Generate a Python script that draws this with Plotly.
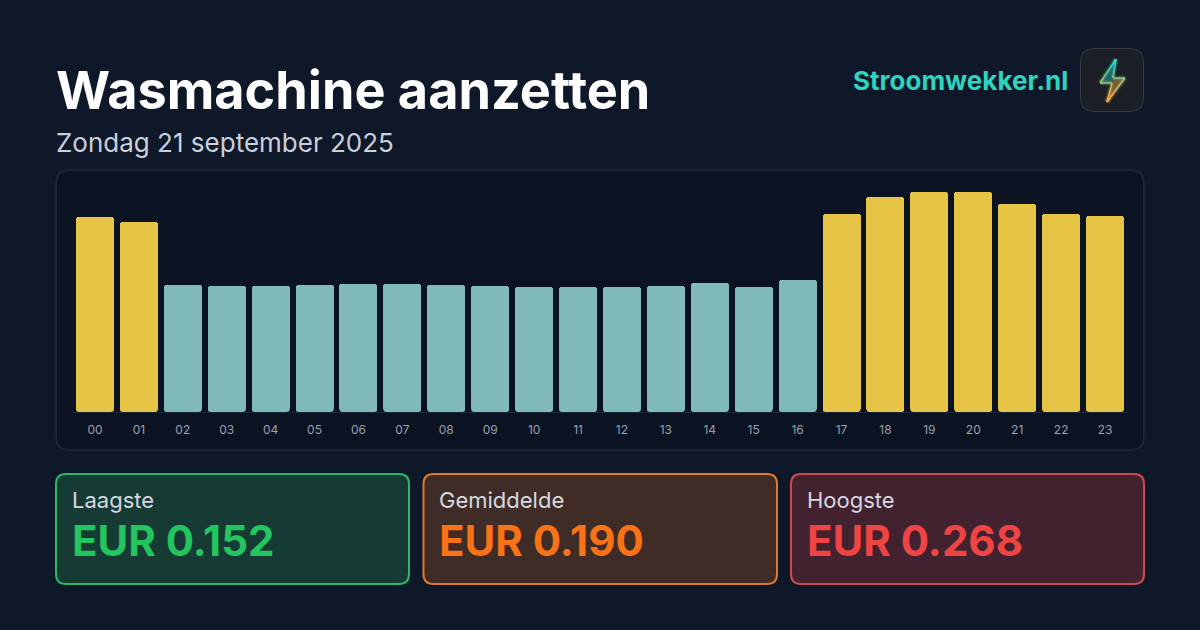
import plotly.graph_objects as go

WIDTH, HEIGHT = 1200, 630

hours = [f"{h:02d}" for h in range(24)]
prices = [0.2375, 0.2315, 0.1547, 0.1529, 0.1535, 0.1547, 0.1560, 0.1565,
          0.1547, 0.1535, 0.1520, 0.1520, 0.1520, 0.1535, 0.1570, 0.1523,
          0.1614, 0.2418, 0.2620, 0.2680, 0.2680, 0.2534, 0.2418, 0.2388]
cheap_hours = ["02", "03", "04", "05", "06", "07", "08", "09", "10", "11",
               "12", "13", "14", "15", "16"]
title = "Wasmachine aanzetten"
subtitle = "Zondag 21 september 2025"
brand = "Stroomwekker.nl"
card_labels = ["Laagste", "Gemiddelde", "Hoogste"]
card_values = ["EUR 0.152", "EUR 0.190", "EUR 0.268"]

FONT = "Inter"
BG = "#0f1828"
PANEL = "#0b1221"
TEAL = "#7fb9b9"
YELLOW = "#e6c546"
CARD_STYLES = [
    ("#22c55e", "#163a34", "#2bb765"),
    ("#f97316", "#402c27", "#de7a2a"),
    ("#ef4444", "#432230", "#cf4a50"),
]
BAR_HALF_PX = 19
BAR_CORNER_PX = 3


def px(x):
    return x / WIDTH


def py(y):
    return 1 - y / HEIGHT


def rounded_rect(x0, y0, x1, y1, r):
    return (
        f"M{px(x0 + r)},{py(y0)} L{px(x1 - r)},{py(y0)} "
        f"Q{px(x1)},{py(y0)} {px(x1)},{py(y0 + r)} L{px(x1)},{py(y1 - r)} "
        f"Q{px(x1)},{py(y1)} {px(x1 - r)},{py(y1)} L{px(x0 + r)},{py(y1)} "
        f"Q{px(x0)},{py(y1)} {px(x0)},{py(y1 - r)} L{px(x0)},{py(y0 + r)} "
        f"Q{px(x0)},{py(y0)} {px(x0 + r)},{py(y0)} Z"
    )


def box(x0, y0, x1, y1, r, fill, line, width):
    return dict(type="path", path=rounded_rect(x0, y0, x1, y1, r),
                xref="paper", yref="paper", fillcolor=fill,
                line=dict(color=line, width=width), layer="below")


def polygon(points, fill):
    path = "M" + " L".join(f"{px(x)},{py(y)}" for x, y in points) + " Z"
    return dict(type="path", path=path, xref="paper", yref="paper",
                fillcolor=fill, line_width=0, layer="above")


def text(x, y, s, size, color, weight=400, anchor="left"):
    # annotations carry about 2px of inner padding on the anchored side
    nudge = -2.5 if anchor == "left" else 2
    return dict(x=px(x + nudge), y=py(y), xref="paper", yref="paper", text=s,
                showarrow=False, xanchor=anchor, yanchor="middle",
                font=dict(family=FONT, size=size, color=color, weight=weight))


def bolt_colour(y, alpha):
    # vertical blend from teal at the top of the bolt to amber at its tip
    t = min(max((y - 66) / 30, 0), 1)
    r = round(45 + (252 - 45) * t)
    g = round(222 + (176 - 222) * t)
    b = round(200 + (66 - 200) * t)
    return f"rgba({r},{g},{b},{alpha})"


def bolt_outline(points, width, alpha, steps=5):
    out = []
    for (x0, y0), (x1, y1) in zip(points, points[1:] + points[:1]):
        for i in range(steps):
            a, b = i / steps, (i + 1) / steps
            xa, ya = x0 + (x1 - x0) * a, y0 + (y1 - y0) * a
            xb, yb = x0 + (x1 - x0) * b, y0 + (y1 - y0) * b
            out.append(dict(type="line", xref="paper", yref="paper",
                            x0=px(xa), y0=py(ya), x1=px(xb), y1=py(yb),
                            layer="above",
                            line=dict(width=width,
                                      color=bolt_colour((ya + yb) / 2, alpha))))
    return out


colors = [TEAL if h in cheap_hours else YELLOW for h in hours]

fig = go.Figure(go.Bar(x=hours, y=prices, marker=dict(color=colors, line_width=0,
                                                      cornerradius=BAR_CORNER_PX),
                       width=0.865, hoverinfo="x+y"))

shapes = [box(56, 170, 1144, 450, 14, PANEL, "#1c2638", 2)]

# Soften the lower corners of each bar, anchored on the bar's own hour
h, r = BAR_HALF_PX, BAR_CORNER_PX
for hour in hours:
    shapes.append(dict(
        type="path", xref="x", yref="y", xsizemode="pixel", ysizemode="pixel",
        xanchor=hour, yanchor=0,
        path=(f"M{-h - 1},-1 L{-h - 1},{r} L{-h},{r} Q{-h},0 {-h + r},0 L{-h + r},-1 Z "
              f"M{h + 1},-1 L{h + 1},{r} L{h},{r} Q{h},0 {h - r},0 L{h - r},-1 Z"),
        fillcolor=PANEL, line_width=0, layer="above"))

annotations = [
    text(56.5, 90, title, 52.2, "#ffffff", 700),
    text(56, 143, subtitle, 26, "#c8d0dc"),
    text(1068, 81, brand, 26, "#2dd4bf", 700, "right"),
]

# Three summary cards under the chart
card_x = [(56, 409), (423.5, 777), (791, 1144)]
for (x0, x1), label, value, (accent, fill, edge) in zip(card_x, card_labels,
                                                        card_values, CARD_STYLES):
    shapes.append(box(x0, 474, x1, 584, 10, fill, edge, 2))
    annotations.append(text(x0 + 16, 500, label, 22, "#d5d9e0"))
    annotations.append(text(x0 + 16, 540, value, 42, accent, 700))

# Logo tile with a glowing lightning bolt
shapes.append(box(1080.5, 48.5, 1143.5, 111.5, 14, "#1c1f26", "#3a3d42", 1))
bolt = [(1116, 59), (1100, 83), (1112, 83), (1107, 102), (1125, 78), (1113, 78)]
shapes.append(polygon([(1116, 59), (1100, 83), (1112, 83), (1113, 78)],
                      "rgba(45,200,190,0.40)"))
shapes.append(polygon([(1113, 78), (1112, 83), (1107, 102), (1125, 78)],
                      "rgba(240,170,70,0.42)"))
for width, alpha in [(7, 0.07), (4, 0.20), (1.6, 1.0)]:
    shapes.extend(bolt_outline(bolt, width, alpha))

fig.update_layout(
    width=WIDTH, height=HEIGHT, autosize=False,
    margin=dict(l=0, r=0, t=0, b=0),
    paper_bgcolor=BG, plot_bgcolor="rgba(0,0,0,0)",
    showlegend=False, bargap=0,
    shapes=shapes, annotations=annotations,
    font=dict(family=FONT),
    xaxis=dict(domain=[px(73), px(1127)], type="category",
               categoryorder="array", categoryarray=hours, range=[-0.5, 23.5],
               showgrid=False, zeroline=False, showline=True,
               linecolor="#1c2638", linewidth=1, ticks="", ticklabelstandoff=7,
               tickfont=dict(family=FONT, size=12, color="#98a1ae")),
    yaxis=dict(domain=[py(412), py(192)], range=[0, 0.268], visible=False),
)

fig.write_html("out.html", config=dict(displayModeBar=False))
